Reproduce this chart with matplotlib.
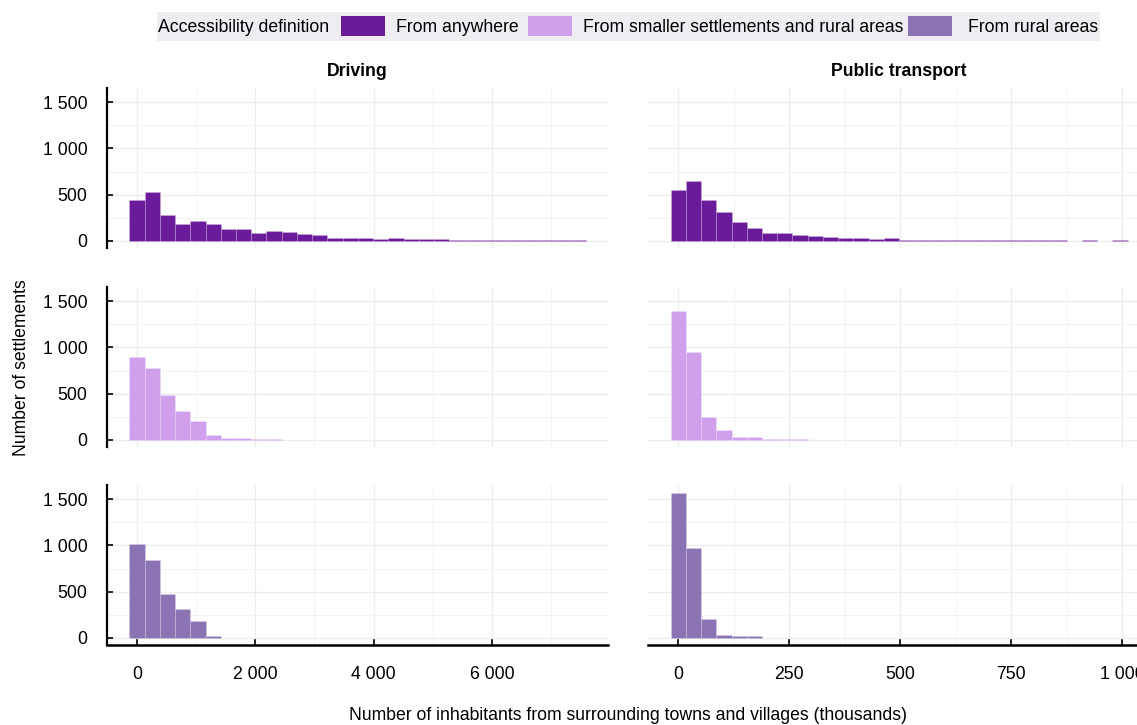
import numpy as np
import matplotlib
matplotlib.use("Agg")
import matplotlib.pyplot as plt
from matplotlib.patches import Rectangle
from matplotlib.ticker import FuncFormatter, MultipleLocator

# --- data -------------------------------------------------------------------
facets = ["Driving", "Public transport"]
definitions = ["From anywhere", "From smaller settlements and rural areas", "From rural areas"]
colors = ["#6A1B9A", "#D0A0EC", "#8B74B3"]

# histogram bin widths (thousands of inhabitants); bins are centred on 0, w, 2w, ...
driving_bin = 257.5
transit_bin = 34.3

driving_anywhere = [438, 533, 283, 188, 214, 188, 130, 130, 87, 105, 98, 76, 65, 33, 33,
                    33, 22, 33, 22, 22, 22, 11, 11, 11, 14, 11, 11, 11, 14, 14]
driving_smaller = [892, 783, 487, 318, 206, 54, 22, 22, 11, 7] + [0] * 20
driving_rural = [1015, 848, 473, 310, 181, 18] + [0] * 24

transit_anywhere = [554, 652, 446, 315, 206, 141, 87, 87, 65, 54, 43, 33, 33, 22, 33,
                    11, 11, 11, 11, 7, 7, 7, 7, 7, 7, 7, 0, 7, 0, 7]
transit_smaller = [1393, 953, 245, 105, 29, 29, 7, 7, 7] + [0] * 21
transit_rural = [1572, 978, 203, 36, 18, 18] + [0] * 24

counts = {
    "Driving": [driving_anywhere, driving_smaller, driving_rural],
    "Public transport": [transit_anywhere, transit_smaller, transit_rural],
}
bin_width = {"Driving": driving_bin, "Public transport": transit_bin}

y_ticks = [0, 500, 1000, 1500]
x_ticks = {"Driving": [0, 2000, 4000, 6000], "Public transport": [0, 250, 500, 750, 1000]}
x_minor = {"Driving": 1000, "Public transport": 125}
x_limits = {"Driving": (-507, 7963), "Public transport": (-68, 1060)}
y_limits = (-76, 1654)

# --- styling ----------------------------------------------------------------
FONT = ["Liberation Sans", "Arial", "DejaVu Sans"]
FS = 12.7
plt.rcParams["font.family"] = FONT
plt.rcParams["font.size"] = FS

W, H = 1137, 725
fig = plt.figure(figsize=(W / 100, H / 100), dpi=100)


def px_box(x0, y0, x1, y1):
    return [x0 / W, 1 - y1 / H, (x1 - x0) / W, (y1 - y0) / H]


col_x = [(107, 608), (648, 1149)]
row_y = [(88, 248), (287, 447), (485, 645)]
space_fmt = FuncFormatter(lambda v, _: f"{int(round(v)):,}".replace(",", " "))

for c, facet in enumerate(facets):
    w = bin_width[facet]
    for r in range(3):
        ax = fig.add_axes(px_box(col_x[c][0], row_y[r][0], col_x[c][1], row_y[r][1]))
        vals = np.asarray(counts[facet][r], dtype=float)
        centers = np.arange(len(vals)) * w
        keep = vals > 0
        ax.bar(centers[keep], vals[keep], width=w, color=colors[r],
               edgecolor=(1, 1, 1, 0.22), linewidth=0.5, zorder=3)

        ax.set_xlim(*x_limits[facet])
        ax.set_ylim(*y_limits)
        ax.set_xticks(x_ticks[facet])
        ax.xaxis.set_minor_locator(MultipleLocator(x_minor[facet]))
        ax.set_yticks(y_ticks)
        ax.yaxis.set_minor_locator(MultipleLocator(250))
        ax.grid(True, which="major", color="#EDEDED", linewidth=1.0, zorder=0)
        ax.grid(True, which="minor", color="#F3F3F3", linewidth=0.7, zorder=0)
        ax.set_axisbelow(True)

        for s in ["top", "right"]:
            ax.spines[s].set_visible(False)
        ax.spines["left"].set_visible(c == 0)
        ax.spines["left"].set_linewidth(1.6)
        ax.spines["bottom"].set_visible(r == 2)
        ax.spines["bottom"].set_linewidth(1.8)

        ax.tick_params(axis="both", which="minor", length=0)
        ax.tick_params(axis="y", which="major", direction="in", length=4, width=1.2,
                       pad=14, labelsize=FS, left=(c == 0), labelleft=(c == 0))
        ax.tick_params(axis="x", which="major", direction="in", length=4, width=1.2,
                       pad=15, labelsize=FS, bottom=(r == 2), labelbottom=(r == 2))
        ax.yaxis.set_major_formatter(space_fmt)
        ax.xaxis.set_major_formatter(space_fmt)

        if r == 0:
            ax.set_title(facet, fontsize=FS, fontweight="bold", pad=9)

# axis titles
fig.text(22 / W, 1 - 368 / H, "Number of settlements", rotation=90,
         ha="center", va="center", fontsize=FS)
fig.text(628 / W, 1 - 716 / H, "Number of inhabitants from surrounding towns and villages (thousands)",
         ha="center", va="center", fontsize=FS)

# legend strip at the top
fig.add_artist(Rectangle((157 / W, 1 - 41 / H), (1100 - 157) / W, 29 / H,
                         transform=fig.transFigure, facecolor="#EFEDF2", edgecolor="none"))
fig.text(158 / W, 1 - 27.5 / H, "Accessibility definition", ha="left", va="center", fontsize=FS)
swatch_x = [341, 528, 908]
label_x = [396, 583, 968]
for col, sx, lx, lab in zip(colors, swatch_x, label_x, definitions):
    fig.add_artist(Rectangle((sx / W, 1 - 36 / H), 44 / W, 20 / H,
                             transform=fig.transFigure, facecolor=col, edgecolor="none"))
    fig.text(lx / W, 1 - 27.5 / H, lab, ha="left", va="center", fontsize=FS)

fig.savefig("out.png", dpi=100, facecolor="white")
